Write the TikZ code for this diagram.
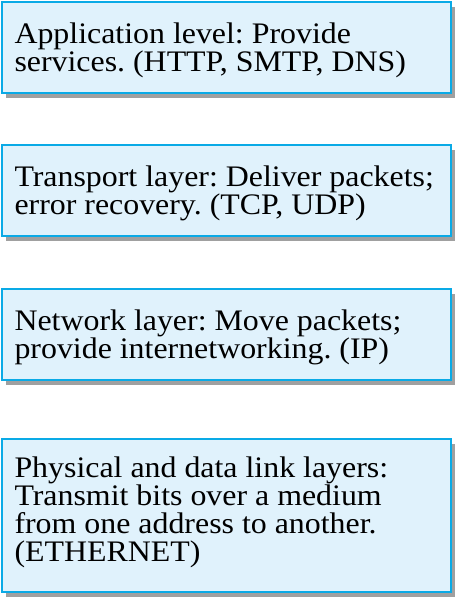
\documentclass[tikz,border=0pt]{standalone}
\usepackage{fontspec}
\setmainfont{Liberation Serif}[FakeStretch=1.07]
\usetikzlibrary{shadows}
\usepackage{xcolor}
\definecolor{layerline}{RGB}{10, 170, 230}
\definecolor{layerbg}{RGB}{224, 242, 252}
\definecolor{shadowgray}{RGB}{160, 160, 160}

\begin{document}
\begin{tikzpicture}[x=1pt, y=-1pt,
    layer/.style 2 args={draw=layerline, fill=layerbg, line width=2pt, anchor=north west,
        text width=424pt, align=flush left, inner xsep=12.5pt, inner ysep=0pt,
        font=\fontsize{29.8}{28}\selectfont\frenchspacing,
        drop shadow={shadow xshift=4pt, shadow yshift=-5pt, fill=shadowgray, opacity=1},
        execute at begin node={\rule{0pt}{#1}}, execute at end node={\rule[-#2]{0pt}{#2}}}]
        \useasboundingbox (0,0) rectangle (456,600);
        \node[layer={41pt}{22pt}] (app) at (1, 1) {Application level: Provide\\services. (HTTP, SMTP, DNS)};
        \node[layer={41pt}{22pt}] (trans) at (1, 144) {Transport layer: Deliver packets;\\error recovery. (TCP, UDP)};
        \node[layer={41pt}{22pt}] (net) at (1, 288) {Network layer: Move packets;\\provide internetworking. (IP)};
        \node[layer={38pt}{31pt}] (phys) at (1, 438) {Physical and data link layers:\\Transmit bits over a medium\\from one address to another.\\(ETHERNET)};
    \end{tikzpicture}
\end{document}
